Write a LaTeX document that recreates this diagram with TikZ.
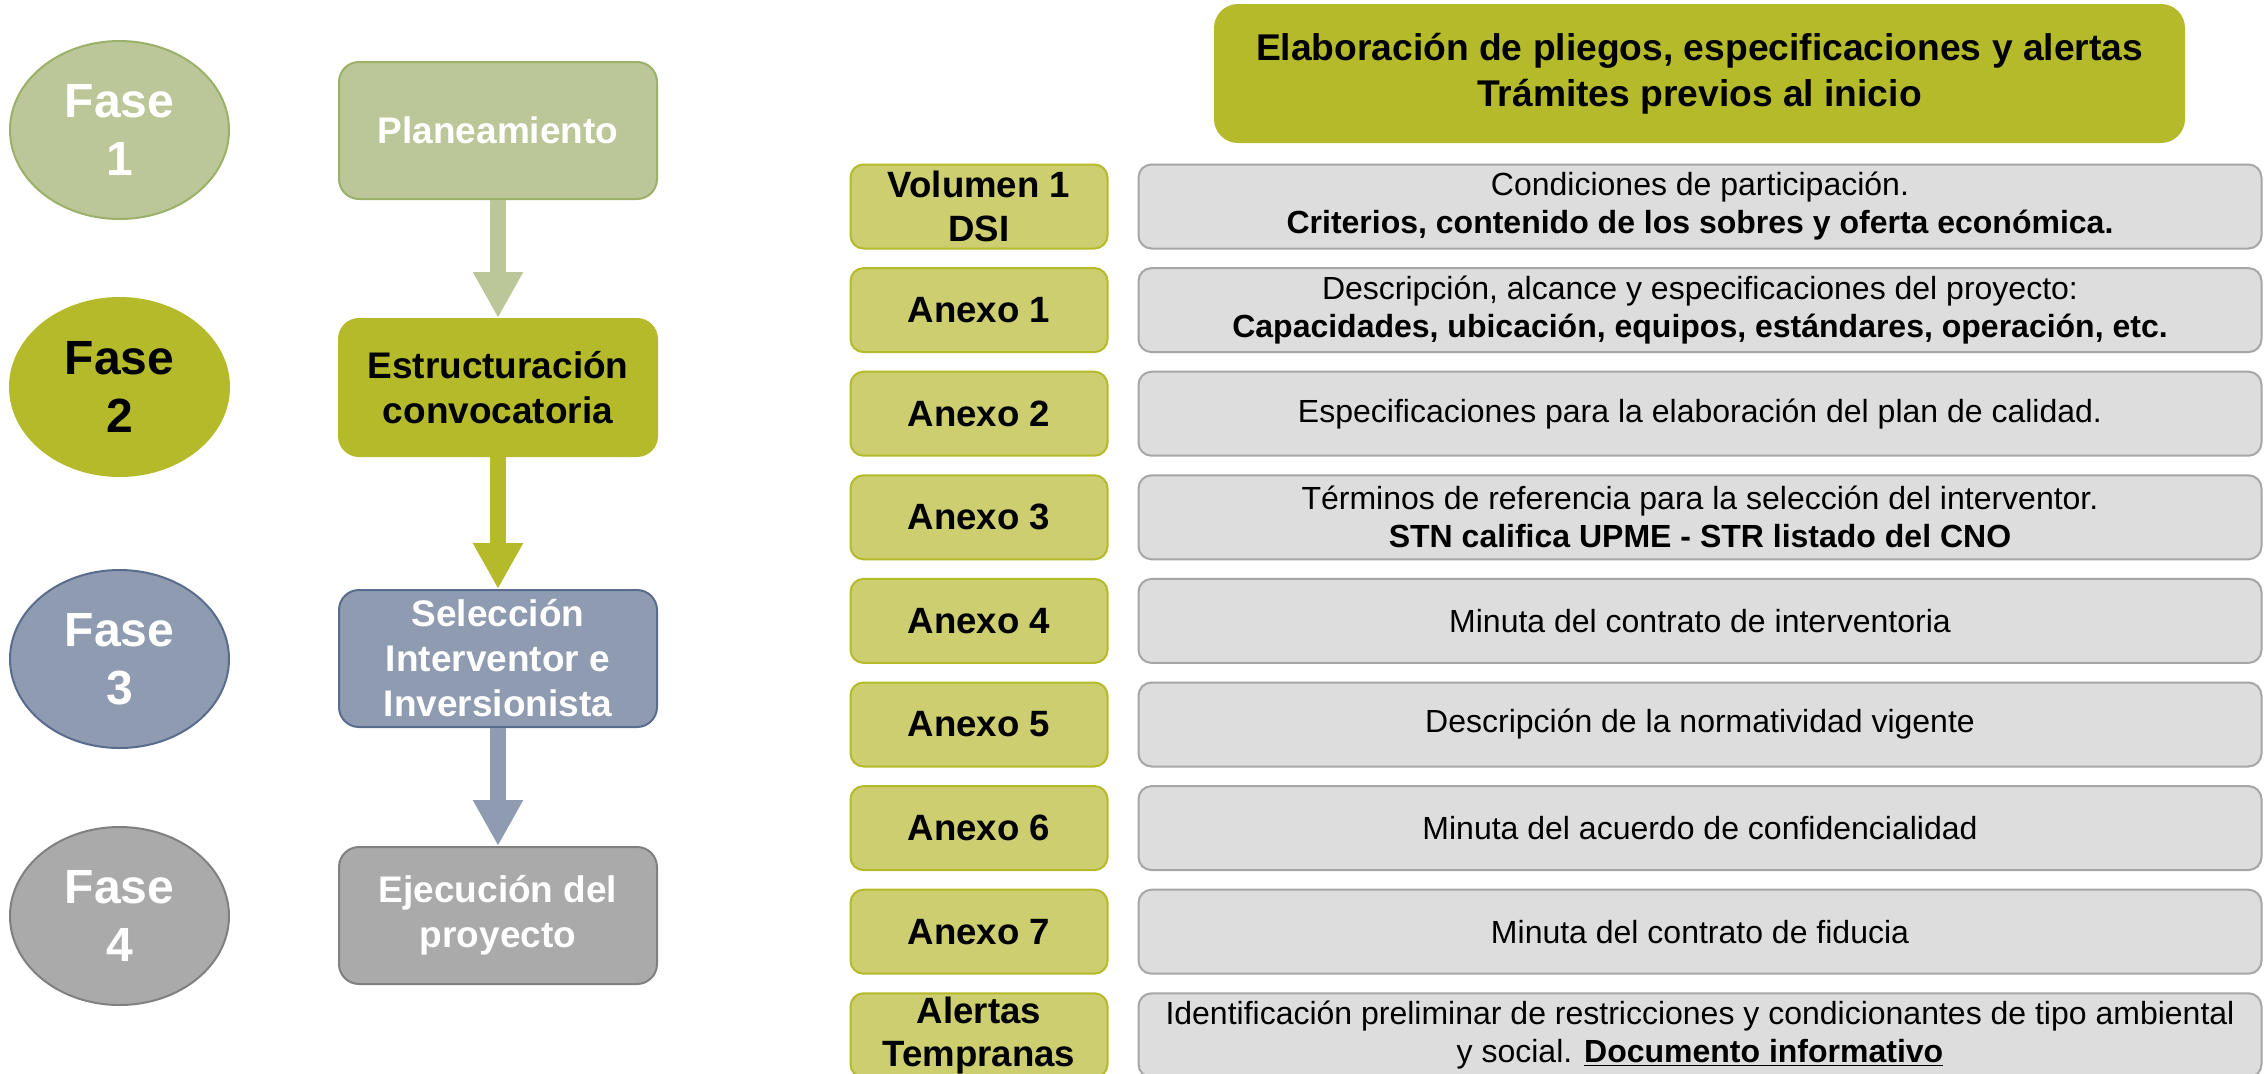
\documentclass[tikz,border=0pt]{standalone}
\usepackage{fontspec}
\setmainfont{Liberation Sans}
\usetikzlibrary{shapes.geometric,arrows.meta}
\definecolor{ph1}{RGB}{187,199,153}
\definecolor{ph1d}{RGB}{155,176,104}
\definecolor{ph2}{RGB}{181,186,43}
\definecolor{ph3}{RGB}{143,155,177}
\definecolor{ph3d}{RGB}{90,108,142}
\definecolor{ph4}{RGB}{170,170,170}
\definecolor{ph4d}{RGB}{128,128,128}
\definecolor{lblfill}{RGB}{204,206,112}
\definecolor{descfill}{RGB}{221,221,221}
\definecolor{descline}{RGB}{166,166,166}
\begin{document}
\begin{tikzpicture}[x=0.5pt,y=-0.5pt,
  phase/.style={ellipse, minimum width=109.5pt, minimum height=89pt, inner sep=0pt, align=center,
    font=\fontsize{24}{28.8}\selectfont\bfseries, line width=1pt},
  stage/.style={rectangle, rounded corners=10pt, minimum width=159pt, minimum height=68.5pt, inner sep=2pt,
    align=center, font=\fontsize{18.5}{22.5}\selectfont\bfseries, line width=1pt},
  lbl/.style={rectangle, rounded corners=6.5pt, fill=lblfill, draw=ph2, line width=1pt,
    minimum width=128.5pt, minimum height=42pt, inner sep=1pt, align=center,
    font=\fontsize{18.3}{21.7}\selectfont\bfseries},
  desc/.style={rectangle, rounded corners=6.5pt, fill=descfill, draw=descline, line width=1pt,
    minimum width=561.5pt, minimum height=42pt, inner sep=1pt, align=center,
    font=\fontsize{16}{19}\selectfont},
  banner/.style={rectangle, rounded corners=12pt, fill=ph2, minimum width=485.5pt, minimum height=69.5pt,
    align=center, font=\fontsize{18.6}{23}\selectfont\bfseries},
  flow/.style={line width=8pt, -{Triangle[length=23pt,width=23.5pt]}}
]
\clip (0,0) rectangle (2267,1073);
\fill[white] (0,0) rectangle (2267,1073);
% phases
\node[phase, fill=ph1, draw=ph1d, text=white] (f1) at (119.5,130) {Fase\\1};
\node[phase, fill=ph2, draw=ph2, text=black] (f2) at (119.5,387) {Fase\\2};
\node[phase, fill=ph3, draw=ph3d, text=white] (f3) at (119.5,659) {Fase\\3};
\node[phase, fill=ph4, draw=ph4d, text=white] (f4) at (119.5,916) {Fase\\4};
% stages
\node[stage, fill=ph1, draw=ph1d, text=white] (s1) at (498,130.5) {Planeamiento};
\node[stage, fill=ph2, draw=ph2, text=black] (s2) at (498,387.5) {Estructuración\\convocatoria};
\node[stage, fill=ph3, draw=ph3d, text=white] (s3) at (498,658.5) {Selección\\Interventor e\\Inversionista};
\node[stage, fill=ph4, draw=ph4d, text=white] (s4) at (498,915.5) {Ejecución del\\proyecto};
% arrows
\draw[flow, ph1] (s1.south) -- (s2.north);
\draw[flow, ph2] (s2.south) -- (s3.north);
\draw[flow, ph3] (s3.south) -- (s4.north);
% banner
\node[banner] (ban) at (1699.5,73.5) {Elaboración de pliegos, especificaciones y alertas\\Trámites previos al inicio};
% rows
\node[lbl] (l0) at (979,206.5) {Volumen 1\\DSI};
\node[desc] (d0) at (1700,206.5) {Condiciones de participación.\\\textbf{Criterios, contenido de los sobres y oferta económica.}};
\node[lbl] (l1) at (979,310.1) {Anexo 1};
\node[desc] (d1) at (1700,310.1) {Descripción, alcance y especificaciones del proyecto:\\\textbf{Capacidades, ubicación, equipos, estándares, operación, etc.}};
\node[lbl] (l2) at (979,413.7) {Anexo 2};
\node[desc] (d2) at (1700,413.7) {Especificaciones para la elaboración del plan de calidad.};
\node[lbl] (l3) at (979,517.3) {Anexo 3};
\node[desc] (d3) at (1700,517.3) {Términos de referencia para la selección del interventor.\\\textbf{STN califica UPME - STR listado del CNO}};
\node[lbl] (l4) at (979,620.9) {Anexo 4};
\node[desc] (d4) at (1700,620.9) {Minuta del contrato de interventoria};
\node[lbl] (l5) at (979,724.5) {Anexo 5};
\node[desc] (d5) at (1700,724.5) {Descripción de la normatividad vigente};
\node[lbl] (l6) at (979,828.1) {Anexo 6};
\node[desc] (d6) at (1700,828.1) {Minuta del acuerdo de confidencialidad};
\node[lbl] (l7) at (979,931.7) {Anexo 7};
\node[desc] (d7) at (1700,931.7) {Minuta del contrato de fiducia};
\node[lbl] (l8) at (979,1035.3) {Alertas\\Tempranas};
\node[desc] (d8) at (1700,1035.3) {Identificación preliminar de restricciones y condicionantes de tipo ambiental\\y social. \textbf{\underline{Documento informativo}}};
\end{tikzpicture}
\end{document}
